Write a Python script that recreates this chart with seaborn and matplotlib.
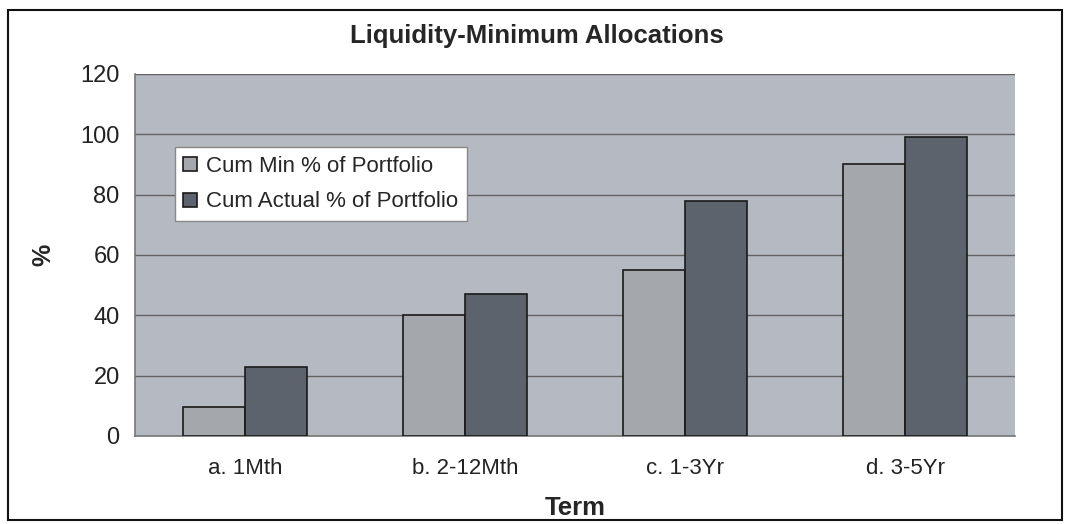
import numpy as np
import pandas as pd
import matplotlib
matplotlib.use("Agg")
import matplotlib.pyplot as plt
import seaborn as sns
from matplotlib.patches import Rectangle

terms = ["a. 1Mth", "b. 2-12Mth", "c. 1-3Yr", "d. 3-5Yr"]
cum_min = [9.5, 40, 55, 90]
cum_actual = [23, 47, 78, 99]
series = ["Cum Min % of Portfolio", "Cum Actual % of Portfolio"]

df = pd.DataFrame({
    "Term": terms * 2,
    "value": cum_min + cum_actual,
    "series": [series[0]] * len(terms) + [series[1]] * len(terms),
})

sns.set_theme(style="white")
plt.rcParams["font.family"] = ["Liberation Sans", "DejaVu Sans"]

fig = plt.figure(figsize=(10.68, 5.24), dpi=100)
ax = fig.add_axes([0.1264, 0.168, 0.824, 0.6908])
ax.set_facecolor("#b5b9c1")

sns.barplot(
    data=df, x="Term", y="value", hue="series", order=terms, hue_order=series,
    palette=["#a3a6ad", "#5b626e"], width=0.56, gap=0,
    edgecolor="#1a1a1a", linewidth=1.2, ax=ax, zorder=3,
)

ax.set_ylim(0, 120)
ax.set_xlim(-0.5, 3.5)
ax.set_yticks(np.arange(0, 121, 20))
ax.yaxis.grid(True, color="#626262", linewidth=1.0, zorder=0)
ax.set_axisbelow(True)
for s in ["top", "right"]:
    ax.spines[s].set_visible(False)
for s in ["left", "bottom"]:
    ax.spines[s].set_color("#777777")
    ax.spines[s].set_linewidth(1.2)

# small ticks between the term groups
ax.set_xticks(np.arange(-0.5, 3.6, 1.0), minor=True)
ax.tick_params(axis="x", which="major", length=0, labelsize=16, pad=16, colors="#222222")
ax.tick_params(axis="x", which="minor", length=5, color="#777777", direction="out")
ax.tick_params(axis="y", length=5, color="#777777", labelsize=17, direction="out",
               labelcolor="#222222", pad=6)

ax.set_xlabel("Term", fontsize=18.5, fontweight="bold", labelpad=12)
ax.set_ylabel("%", fontsize=18, fontweight="bold", labelpad=18)
fig.suptitle("Liquidity-Minimum Allocations", x=0.503, y=0.955,
             fontsize=18.5, fontweight="bold")

leg = ax.legend(loc="upper left", bbox_to_anchor=(0.045, 0.798), fontsize=16,
                frameon=True, fancybox=False, edgecolor="#888888",
                facecolor="white", framealpha=1, handlelength=0.6,
                handleheight=0.6, handletextpad=0.4, borderpad=0.4,
                labelspacing=0.65, borderaxespad=0)
leg.get_frame().set_linewidth(1.0)

fig.patches.append(Rectangle((0.0075, 0.008), 0.987, 0.972, transform=fig.transFigure,
                             fill=False, edgecolor="#111111", linewidth=1.5))

fig.savefig("out.png", dpi=100)
